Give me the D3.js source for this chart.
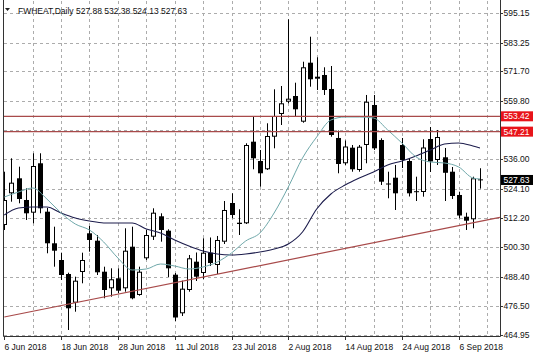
<!DOCTYPE html>
<html><head><meta charset="utf-8">
<script src="https://cdn.jsdelivr.net/npm/d3@7"></script>
<style>body{margin:0;background:#fff}svg{display:block}text{font-family:"Liberation Sans",Arial,sans-serif}</style>
</head><body><svg id="c" width="536" height="358"></svg>
<script>
const symbol = "FWHEAT,Daily";
const dates = ["2018-06-06","2018-06-07","2018-06-08","2018-06-11","2018-06-12","2018-06-13","2018-06-14","2018-06-15","2018-06-18","2018-06-19",
"2018-06-20","2018-06-21","2018-06-22","2018-06-25","2018-06-26","2018-06-27","2018-06-28","2018-06-29","2018-07-02","2018-07-03",
"2018-07-05","2018-07-06","2018-07-09","2018-07-10","2018-07-11","2018-07-12","2018-07-13","2018-07-16","2018-07-17","2018-07-18",
"2018-07-19","2018-07-20","2018-07-23","2018-07-24","2018-07-25","2018-07-26","2018-07-27","2018-07-30","2018-07-31","2018-08-01",
"2018-08-02","2018-08-03","2018-08-06","2018-08-07","2018-08-08","2018-08-09","2018-08-10","2018-08-13","2018-08-14","2018-08-15",
"2018-08-16","2018-08-17","2018-08-20","2018-08-21","2018-08-22","2018-08-23","2018-08-24","2018-08-27","2018-08-28","2018-08-29",
"2018-08-30","2018-08-31","2018-09-04","2018-09-05","2018-09-06","2018-09-07","2018-09-10","2018-09-11"];
const open = [509.39,522.23,528.31,519.52,514.38,534.39,514.78,501.98,495.21,489.54,
477.92,490.35,506.03,503.03,490.47,483.75,487.80,483.75,500.60,481.04,
495.90,504.65,512.92,507.08,489.26,473.62,483.06,494.53,489.95,498.17,
493.19,502.63,518.30,510.32,510.08,543.14,535.32,531.96,545.16,554.36,
559.34,561.65,551.24,575.14,568.66,570.16,564.49,544.64,534.39,540.71,
531.67,541.80,558.00,543.83,526.20,528.55,541.80,535.32,523.08,522.76,
544.23,535.72,536.82,530.98,521.55,512.75,511.70,527.88];
const high = [530.98,536.41,533.01,524.26,538.44,538.44,516.28,508.70,498.17,490.07,
488.45,498.17,508.99,505.34,492.50,491.85,491.85,508.06,508.70,492.50,
507.37,516.16,514.13,507.65,489.95,486.83,497.24,498.25,504.00,504.33,
504.94,519.11,522.23,515.75,542.49,553.55,539.77,550.59,564.36,565.70,
592.72,567.04,575.54,585.67,577.33,573.28,573.80,547.67,543.62,541.80,
541.80,562.06,562.06,544.51,530.98,533.70,544.64,536.53,528.96,544.11,
549.09,547.88,540.59,532.89,522.88,514.38,528.96,532.38];
const low = [507.37,518.83,518.18,511.42,510.08,514.13,497.93,492.50,487.11,466.86,
474.27,485.77,498.58,489.14,479.70,480.35,481.72,482.37,479.29,480.75,
495.21,503.32,502.63,488.33,470.50,472.53,482.37,486.71,487.52,492.78,
489.54,501.70,512.11,505.34,509.80,531.96,524.91,531.67,540.46,549.90,
558.69,553.26,550.83,565.42,564.08,562.06,545.16,530.34,533.70,530.98,
530.98,534.39,539.77,525.60,520.21,515.47,532.48,520.94,519.11,520.86,
530.86,533.70,519.11,519.93,512.11,507.37,508.06,524.13];
const close = [519.52,526.53,519.93,514.13,533.29,516.16,501.98,498.98,489.14,475.65,
486.83,495.21,503.32,490.23,483.06,487.40,482.78,498.98,479.70,490.47,
505.34,514.38,507.37,491.85,471.92,483.59,495.90,488.45,498.17,494.00,
503.32,515.47,513.44,509.80,541.80,536.41,530.34,545.45,553.55,558.69,
560.56,556.26,573.28,568.42,569.47,564.08,545.85,534.10,541.19,531.96,
541.11,559.34,540.46,526.93,525.80,522.23,535.72,522.23,522.68,540.79,
535.12,545.04,530.54,521.14,513.24,511.13,528.31,527.63];
const maIdx = [0,2,4,6,8,10,12,14,16,18,20,22,24,26,28,30,32,34,36,38,40,42,44,46,48,50,52,54,56,58,60,62,64,66,67];
const maFast = [520.73,522.76,524.38,519.92,514.25,509.79,507.36,502.50,496.02,491.16,491.57,493.59,492.78,491.57,492.38,494.40,498.05,502.91,506.15,514.25,524.78,536.53,545.04,551.93,553.14,553.14,552.74,547.87,542.61,536.94,534.91,534.51,532.89,528.43,528.02];
const maSlow = [513.44,516.28,516.68,516.68,514.25,512.23,511.01,510.20,510.20,510.20,507.77,506.15,503.31,500.88,498.86,497.64,497.24,497.64,498.45,499.67,501.69,506.55,515.87,521.95,525.59,528.43,530.86,533.70,535.32,537.34,539.77,542.20,542.61,541.39,540.58];
const priceTicks = [595.15,583.25,571.70,559.80,547.90,536.00,524.10,512.20,500.30,488.40,476.50,464.95];
const dateTickIdx = [0,8,16,24,32,40,48,56,64];
const dateTickLabels = ["6 Jun 2018","18 Jun 2018","28 Jun 2018","11 Jul 2018","23 Jul 2018","2 Aug 2018","14 Aug 2018","24 Aug 2018","6 Sep 2018"];
const levels = [553.42, 547.21];
const trendIdx = [0, 69.8];
const trendPrice = [472.12, 512.51];

const L = 4, R = 500, T = 1, B = 336;
const svg = d3.select("#c");
const x = d3.scaleLinear().domain([0, 67]).range([4.3, 480]);
const y = d3.scaleLinear().domain([464.95, 595.15]).range([334.7, 13.3]);
const gridC = "#acacac", lvlC = "#a84a4a";

svg.append("defs").append("clipPath").attr("id","pc").append("rect")
  .attr("x", L).attr("y", T).attr("width", R - L).attr("height", B - T);

// grid
const g = svg.append("g");
g.selectAll(".hg").data(priceTicks).join("line")
  .attr("x1", L).attr("x2", R).attr("y1", d => Math.round(y(d)) + 0.5).attr("y2", d => Math.round(y(d)) + 0.5)
  .attr("stroke", gridC).attr("stroke-dasharray", "3,3");
const vIdx = d3.range(4, 70, 4);
g.selectAll(".vg").data(vIdx).join("line")
  .attr("x1", d => Math.round(x(d)) + 0.5).attr("x2", d => Math.round(x(d)) + 0.5).attr("y1", T).attr("y2", B)
  .attr("stroke", gridC).attr("stroke-dasharray", "3,3");

const plot = svg.append("g").attr("clip-path", "url(#pc)");
const idx = d3.range(open.length);
// wicks
plot.selectAll(".wk").data(idx).join("line")
  .attr("x1", i => Math.round(x(i)) + 0.5).attr("x2", i => Math.round(x(i)) + 0.5)
  .attr("y1", i => y(high[i])).attr("y2", i => y(low[i]))
  .attr("stroke", "#000").attr("stroke-width", 1);
// bodies
plot.selectAll(".bd").data(idx).join("rect")
  .attr("x", i => Math.round(x(i)) - 2 + (close[i] >= open[i] ? 0.5 : 0))
  .attr("width", i => close[i] >= open[i] ? 4 : 5)
  .attr("y", i => y(Math.max(open[i], close[i])) + (close[i] >= open[i] ? 0.5 : 0))
  .attr("height", i => Math.max(1, Math.abs(y(open[i]) - y(close[i])) - (close[i] >= open[i] ? 1 : 0)))
  .attr("fill", i => close[i] >= open[i] ? "#fff" : "#000")
  .attr("stroke", i => close[i] >= open[i] ? "#000" : "none")
  .attr("stroke-width", 1);

// moving averages
const line = d3.line().x((d) => x(d[0])).y(d => y(d[1])).curve(d3.curveMonotoneX);
plot.append("path").datum(maIdx.map((d, k) => [d, maSlow[k]]))
  .attr("d", line).attr("fill", "none").attr("stroke", "#1c1c4c").attr("stroke-width", 1.1);
plot.append("path").datum(maIdx.map((d, k) => [d, maFast[k]]))
  .attr("d", line).attr("fill", "none").attr("stroke", "#6fa8aa").attr("stroke-width", 1);

// levels and trend
plot.selectAll(".lv").data(levels).join("line")
  .attr("x1", L).attr("x2", R).attr("y1", d => y(d)).attr("y2", d => y(d))
  .attr("stroke", lvlC).attr("stroke-width", 1.3);
plot.append("line")
  .attr("x1", x(trendIdx[0])).attr("y1", y(trendPrice[0]))
  .attr("x2", x(trendIdx[1])).attr("y2", y(trendPrice[1]))
  .attr("stroke", lvlC).attr("stroke-width", 1.2);

// frame
svg.append("path").attr("d", `M${L - 0.5},0 V${B + 0.5} H${R + 0.5} V0`)
  .attr("fill", "none").attr("stroke", "#333").attr("stroke-width", 1);

// right axis
const lastClose = close[close.length - 1];
const boxes = levels.map(v => ({v, c: "#e8141a"})).concat([{v: lastClose, c: "#000"}]);
const axisTicks = priceTicks.filter(v => boxes.every(b => Math.abs(y(b.v) - y(v)) > 6));
const ax = svg.append("g");
ax.selectAll(".tk").data(axisTicks).join("line")
  .attr("x1", R).attr("x2", R + 3).attr("y1", d => Math.round(y(d)) + 0.5).attr("y2", d => Math.round(y(d)) + 0.5)
  .attr("stroke", "#333");
ax.selectAll(".tl").data(axisTicks).join("text")
  .attr("x", R + 3.5).attr("y", d => y(d) + 3)
  .attr("font-size", 8.5).attr("fill", "#111").text(d => d.toFixed(2));
const bx = ax.selectAll(".bx").data(boxes).join("g");
bx.append("rect").attr("x", R + 1).attr("width", 32).attr("y", d => y(d.v) - 5).attr("height", 10).attr("fill", d => d.c);
bx.append("text").attr("x", R + 3.5).attr("y", d => y(d.v) + 3)
  .attr("font-size", 8.5).attr("fill", "#fff").text(d => d.v.toFixed(2));

// bottom axis
const bxg = svg.append("g");
bxg.selectAll(".dt").data(dateTickIdx).join("line")
  .attr("x1", d => Math.round(x(d)) + 0.5).attr("x2", d => Math.round(x(d)) + 0.5)
  .attr("y1", B).attr("y2", B + 4).attr("stroke", "#333");
bxg.selectAll(".dl").data(dateTickIdx).join("text")
  .attr("x", d => Math.round(x(d)) + 0.5).attr("y", 350)
  .attr("font-size", 8.5).attr("fill", "#111").text((d, k) => dateTickLabels[k]);

// title
const n = open.length - 1;
svg.append("path").attr("d", "M5,8 L10,8 L7.5,11 Z").attr("fill", "#222");
svg.append("text").attr("x", 18).attr("y", 14).attr("font-size", 8.5).attr("fill", "#111")
  .text(`${symbol}  ${open[n].toFixed(2)} ${high[n].toFixed(2)} ${low[n].toFixed(2)} ${close[n].toFixed(2)}`);
</script></body></html>
